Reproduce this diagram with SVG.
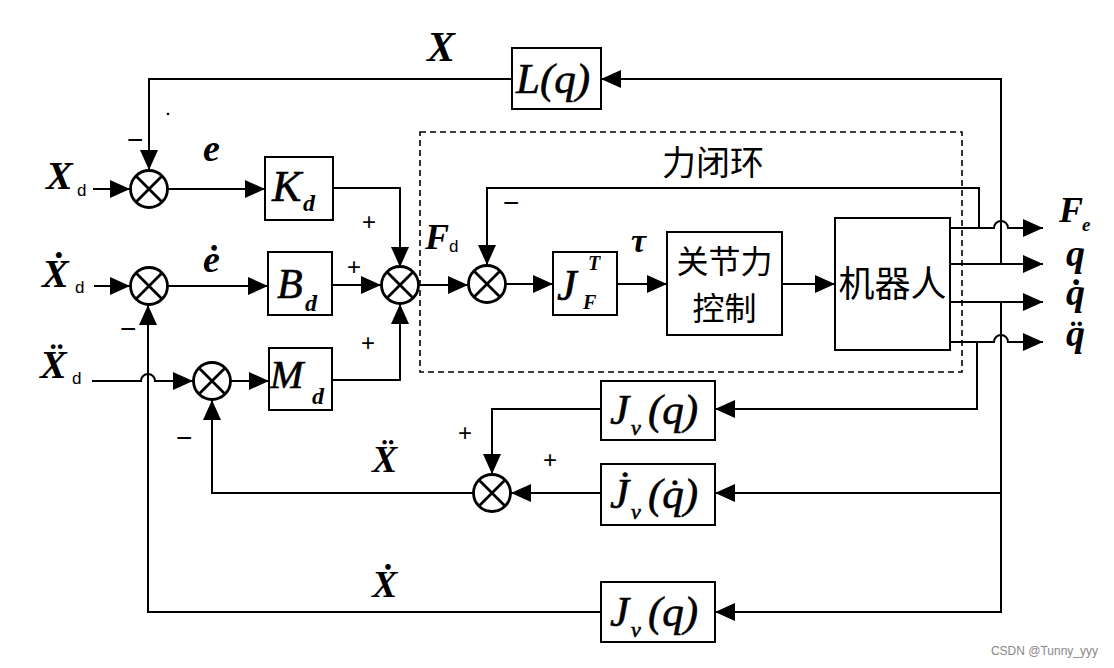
<svg xmlns="http://www.w3.org/2000/svg" width="1114" height="668" viewBox="0 0 1114 668">
<defs>
<marker id="ah" markerUnits="userSpaceOnUse" viewBox="0 0 20 18" refX="20" refY="9" markerWidth="20" markerHeight="18" orient="auto">
<path d="M0,0 L20,9 L0,18 z" fill="#000"/>
</marker>
<style>
.w{fill:none;stroke:#000;stroke-width:2}
.a{marker-end:url(#ah)}
.box{fill:#fff;stroke:#000;stroke-width:2}
.sum{fill:#fff;stroke:#000;stroke-width:2.8}
.sx{fill:none;stroke:#000;stroke-width:2.8}
.m{font-family:"Liberation Serif","DejaVu Serif",serif;font-style:italic;fill:#000;stroke:#000;stroke-width:0.6}
.mb{font-family:"Liberation Serif","DejaVu Serif",serif;font-style:italic;font-weight:bold;fill:#000}
.s{font-family:"Liberation Sans",Arial,sans-serif;fill:#000}
.cjk{font-family:"Noto Sans CJK SC","Noto Sans CJK JP",sans-serif;fill:#000}
</style>
</defs>
<rect width="1114" height="668" fill="#fff"/>

<!-- dashed force loop frame -->
<rect id="forceloop" x="420" y="132" width="542" height="240" fill="none" stroke="#000" stroke-width="1.6" stroke-dasharray="6,4"/>
<text class="cjk" x="662" y="175" font-size="34">力闭环</text>

<g id="connectors">
<path class="w a" d="M1001,264 V79 H601"/>
<path class="w a" d="M512,79 H149 V170"/>
<path class="w a" d="M93,189 H130"/>
<path class="w a" d="M168,189 H265"/>
<path class="w a" d="M333,188 H400 V267"/>
<path class="w a" d="M94,286 H130"/>
<path class="w a" d="M168,286 H268"/>
<path class="w a" d="M332,285 H381"/>
<path class="w a" d="M92,381 H141 A7,7 0 0 1 155,381 H193"/>
<path class="w a" d="M231,381 H269"/>
<path class="w a" d="M332,380 H400 V304"/>
<path class="w a" d="M419,285 H468"/>
<path class="w a" d="M506,284 H553"/>
<path class="w a" d="M617,284 H667"/>
<path class="w a" d="M782,284 H835"/>
<path class="w a" d="M950,228 H994 A7,7 0 0 1 1008,228 H1043"/>
<path class="w a" d="M979,228 V188 H487 V265"/>
<path class="w a" d="M950,264 H1043"/>
<path class="w a" d="M950,302 H1043"/>
<path class="w a" d="M950,342 H994 A7,7 0 0 1 1008,342 H1043"/>
<path class="w a" d="M1001,302 V612 H715"/>
<path class="w a" d="M1001,493 H715"/>
<path class="w a" d="M977,342 V409 H715"/>
<path class="w a" d="M601,409 H492 V474"/>
<path class="w a" d="M601,493 H511"/>
<path class="w a" d="M473,493 H212 V400"/>
<path class="w a" d="M601,612 H148 V305"/>
</g>

<!-- summing junctions -->
<g id="S1"><circle class="sum" cx="149" cy="189" r="18.5"/><path class="sx" d="M136,176 L162,202 M162,176 L136,202"/></g>
<g id="S2"><circle class="sum" cx="149" cy="286" r="18.5"/><path class="sx" d="M136,273 L162,299 M162,273 L136,299"/></g>
<g id="S3"><circle class="sum" cx="400" cy="285" r="18.5"/><path class="sx" d="M387,272 L413,298 M413,272 L387,298"/></g>
<g id="S4"><circle class="sum" cx="212" cy="381" r="18.5"/><path class="sx" d="M199,368 L225,394 M225,368 L199,394"/></g>
<g id="S5"><circle class="sum" cx="487" cy="284" r="18.5"/><path class="sx" d="M474,271 L500,297 M500,271 L474,297"/></g>
<g id="S6"><circle class="sum" cx="492" cy="493" r="18.5"/><path class="sx" d="M479,480 L505,506 M505,480 L479,506"/></g>

<!-- blocks -->
<g id="Lq"><rect class="box" x="512" y="48" width="89" height="61"/><text class="m" x="516" y="93" font-size="43">L(q)</text></g>
<g id="Kd"><rect class="box" x="265" y="157" width="68" height="63"/><text class="m" x="272" y="201" font-size="44">K</text><text class="mb" x="303" y="211" font-size="24">d</text></g>
<g id="Bd"><rect class="box" x="268" y="252" width="64" height="63"/><text class="m" x="277" y="298" font-size="42">B</text><text class="mb" x="305" y="311" font-size="24">d</text></g>
<g id="Md"><rect class="box" x="269" y="348" width="63" height="62"/><text class="m" x="270" y="388" font-size="40">M</text><text class="mb" x="312" y="404" font-size="24">d</text></g>
<g id="JF"><rect class="box" x="553" y="252" width="64" height="63"/><text class="m" x="557" y="300" font-size="44">J</text><text class="mb" x="588" y="270" font-size="20">T</text><text class="mb" x="583" y="309" font-size="20">F</text></g>
<g id="jointforce"><rect class="box" x="667" y="232" width="115" height="103"/><text class="cjk" x="724.5" y="273" font-size="32" text-anchor="middle">关节力</text><text class="cjk" x="724.5" y="320" font-size="32" text-anchor="middle">控制</text></g>
<g id="robot"><rect class="box" x="835" y="218" width="115" height="132"/><text class="cjk" x="892.5" y="297" font-size="36" text-anchor="middle">机器人</text></g>
<g id="Jv1"><rect class="box" x="601" y="381" width="114" height="59"/><text class="m" x="610" y="424" font-size="43">J</text><text class="m" x="631" y="435" font-size="22">v</text><text class="m" x="648" y="424" font-size="43">(q)</text></g>
<g id="Jvdot"><rect class="box" x="601" y="464" width="114" height="61"/><text class="m" x="610" y="508" font-size="43">J̇</text><text class="m" x="631" y="519" font-size="22">v</text><text class="m" x="648" y="508" font-size="43">(q̇)</text></g>
<g id="Jv2"><rect class="box" x="601" y="582" width="114" height="60"/><text class="m" x="610" y="626" font-size="43">J</text><text class="m" x="631" y="637" font-size="22">v</text><text class="m" x="648" y="626" font-size="43">(q)</text></g>

<!-- signal labels -->
<g id="labels">
<text class="mb" x="427" y="61" font-size="42">X</text>
<text class="mb" x="46" y="189" font-size="40">X</text><text class="s" x="77" y="196" font-size="17">d</text>
<text class="mb" x="42" y="287" font-size="40">Ẋ</text><text class="s" x="75" y="293" font-size="17">d</text>
<text class="mb" x="40" y="378" font-size="40">Ẍ</text><text class="s" x="72" y="384" font-size="17">d</text>
<text class="mb" x="203" y="161" font-size="38">e</text>
<text class="mb" x="203" y="272" font-size="38">ė</text>
<text class="mb" x="425" y="249" font-size="36">F</text><text class="s" x="449" y="252" font-size="17">d</text>
<text class="mb" x="631" y="252" font-size="34">τ</text>
<text class="mb" x="372" y="472" font-size="38">Ẍ</text>
<text class="mb" x="372" y="597" font-size="38">Ẋ</text>
<text class="mb" x="1059" y="222" font-size="36">F</text><text class="mb" x="1082" y="231" font-size="19">e</text>
<text class="mb" x="1066" y="266" font-size="38">q</text>
<text class="mb" x="1066" y="305" font-size="38">q̇</text>
<text class="mb" x="1066" y="346" font-size="38">q̈</text>
<text class="s" x="127" y="149" font-size="28">−</text>
<text class="s" x="120" y="338" font-size="28">−</text>
<text class="s" x="176" y="447" font-size="28">−</text>
<text class="s" x="503" y="212" font-size="28">−</text>
<text class="s" x="362" y="230" font-size="24">+</text>
<text class="s" x="347" y="275" font-size="24">+</text>
<text class="s" x="361" y="351" font-size="24">+</text>
<text class="s" x="458" y="441" font-size="24">+</text>
<text class="s" x="543" y="468" font-size="24">+</text>
</g>
<circle cx="168" cy="114" r="1.3" fill="#000"/>
<text class="s" x="1098" y="655" font-size="12" text-anchor="end" style="fill:#888">CSDN @Tunny_yyy</text>
</svg>
